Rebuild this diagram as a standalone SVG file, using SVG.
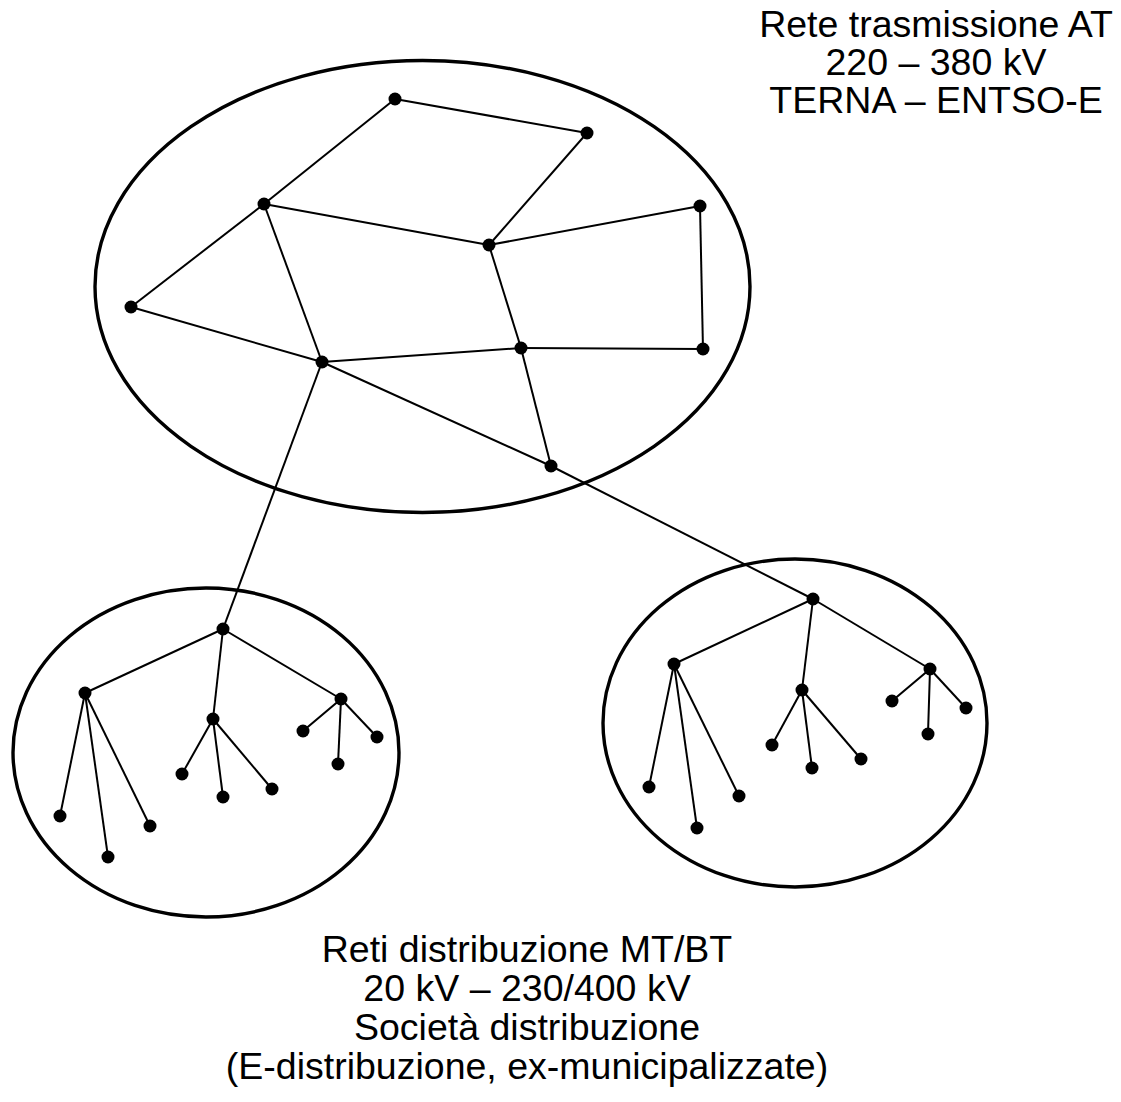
<svg xmlns="http://www.w3.org/2000/svg" width="1121" height="1102" viewBox="0 0 1121 1102">
  <style>
    .zone { fill: none; stroke: #000; stroke-width: 3.4; }
    .line { stroke: #000; stroke-width: 2; fill: none; }
    .node { fill: #000; }
    .label { font-family: "Liberation Sans", Arial, sans-serif; font-size: 37.5px; fill: #000; text-anchor: middle; }
  </style>

  <!-- network areas -->
  <g id="areas">
    <ellipse id="area-transmission" class="zone" cx="422.5" cy="286.5" rx="327.5" ry="226"/>
    <ellipse id="area-distribution-left" class="zone" cx="206" cy="752.5" rx="193" ry="164.5"/>
    <ellipse id="area-distribution-right" class="zone" cx="795" cy="723" rx="192" ry="164"/>
  </g>

  <!-- lines between stations -->
  <g id="connectors" class="line">
    <!-- transmission mesh -->
    <line x1="395" y1="99" x2="587" y2="133"/>
    <line x1="395" y1="99" x2="264" y2="204"/>
    <line x1="587" y1="133" x2="489" y2="245"/>
    <line x1="264" y1="204" x2="489" y2="245"/>
    <line x1="264" y1="204" x2="131" y2="307"/>
    <line x1="264" y1="204" x2="322" y2="362"/>
    <line x1="131" y1="307" x2="322" y2="362"/>
    <line x1="489" y1="245" x2="700" y2="206"/>
    <line x1="700" y1="206" x2="703" y2="349"/>
    <line x1="489" y1="245" x2="521" y2="348"/>
    <line x1="322" y1="362" x2="521" y2="348"/>
    <line x1="521" y1="348" x2="703" y2="349"/>
    <line x1="521" y1="348" x2="551" y2="466"/>
    <line x1="322" y1="362" x2="551" y2="466"/>
    <!-- feeders to distribution -->
    <line x1="322" y1="362" x2="223" y2="629"/>
    <line x1="551" y1="466" x2="813" y2="599"/>
    <!-- left distribution tree -->
    <line x1="223" y1="629" x2="85" y2="693"/>
    <line x1="223" y1="629" x2="213" y2="719"/>
    <line x1="223" y1="629" x2="341" y2="699"/>
    <line x1="85" y1="693" x2="60" y2="816"/>
    <line x1="85" y1="693" x2="108" y2="857"/>
    <line x1="85" y1="693" x2="150" y2="826"/>
    <line x1="213" y1="719" x2="182" y2="774"/>
    <line x1="213" y1="719" x2="223" y2="797"/>
    <line x1="213" y1="719" x2="272" y2="789"/>
    <line x1="341" y1="699" x2="303" y2="731"/>
    <line x1="341" y1="699" x2="338" y2="764"/>
    <line x1="341" y1="699" x2="377" y2="737"/>
    <!-- right distribution tree -->
    <line x1="813" y1="599" x2="674" y2="664"/>
    <line x1="813" y1="599" x2="802" y2="690"/>
    <line x1="813" y1="599" x2="930" y2="669"/>
    <line x1="674" y1="664" x2="649" y2="787"/>
    <line x1="674" y1="664" x2="697" y2="828"/>
    <line x1="674" y1="664" x2="739" y2="796"/>
    <line x1="802" y1="690" x2="772" y2="745"/>
    <line x1="802" y1="690" x2="812" y2="768"/>
    <line x1="802" y1="690" x2="861" y2="759"/>
    <line x1="930" y1="669" x2="892" y2="701"/>
    <line x1="930" y1="669" x2="928" y2="734"/>
    <line x1="930" y1="669" x2="966" y2="708"/>
  </g>

  <!-- transmission stations -->
  <g id="t1"><circle class="node" cx="395" cy="99" r="6.5"/></g>
  <g id="t2"><circle class="node" cx="587" cy="133" r="6.5"/></g>
  <g id="t3"><circle class="node" cx="264" cy="204" r="6.5"/></g>
  <g id="t4"><circle class="node" cx="489" cy="245" r="6.5"/></g>
  <g id="t5"><circle class="node" cx="700" cy="206" r="6.5"/></g>
  <g id="t6"><circle class="node" cx="131" cy="307" r="6.5"/></g>
  <g id="t7"><circle class="node" cx="322" cy="362" r="6.5"/></g>
  <g id="t8"><circle class="node" cx="521" cy="348" r="6.5"/></g>
  <g id="t9"><circle class="node" cx="703" cy="349" r="6.5"/></g>
  <g id="t10"><circle class="node" cx="551" cy="466" r="6.5"/></g>

  <!-- left distribution nodes -->
  <g id="l-root"><circle class="node" cx="223" cy="629" r="6.5"/></g>
  <g id="l-a"><circle class="node" cx="85" cy="693" r="6.5"/></g>
  <g id="l-b"><circle class="node" cx="213" cy="719" r="6.5"/></g>
  <g id="l-c"><circle class="node" cx="341" cy="699" r="6.5"/></g>
  <g id="l-a1"><circle class="node" cx="60" cy="816" r="6.5"/></g>
  <g id="l-a2"><circle class="node" cx="108" cy="857" r="6.5"/></g>
  <g id="l-a3"><circle class="node" cx="150" cy="826" r="6.5"/></g>
  <g id="l-b1"><circle class="node" cx="182" cy="774" r="6.5"/></g>
  <g id="l-b2"><circle class="node" cx="223" cy="797" r="6.5"/></g>
  <g id="l-b3"><circle class="node" cx="272" cy="789" r="6.5"/></g>
  <g id="l-c1"><circle class="node" cx="303" cy="731" r="6.5"/></g>
  <g id="l-c2"><circle class="node" cx="338" cy="764" r="6.5"/></g>
  <g id="l-c3"><circle class="node" cx="377" cy="737" r="6.5"/></g>

  <!-- right distribution nodes -->
  <g id="r-root"><circle class="node" cx="813" cy="599" r="6.5"/></g>
  <g id="r-a"><circle class="node" cx="674" cy="664" r="6.5"/></g>
  <g id="r-b"><circle class="node" cx="802" cy="690" r="6.5"/></g>
  <g id="r-c"><circle class="node" cx="930" cy="669" r="6.5"/></g>
  <g id="r-a1"><circle class="node" cx="649" cy="787" r="6.5"/></g>
  <g id="r-a2"><circle class="node" cx="697" cy="828" r="6.5"/></g>
  <g id="r-a3"><circle class="node" cx="739" cy="796" r="6.5"/></g>
  <g id="r-b1"><circle class="node" cx="772" cy="745" r="6.5"/></g>
  <g id="r-b2"><circle class="node" cx="812" cy="768" r="6.5"/></g>
  <g id="r-b3"><circle class="node" cx="861" cy="759" r="6.5"/></g>
  <g id="r-c1"><circle class="node" cx="892" cy="701" r="6.5"/></g>
  <g id="r-c2"><circle class="node" cx="928" cy="734" r="6.5"/></g>
  <g id="r-c3"><circle class="node" cx="966" cy="708" r="6.5"/></g>

  <!-- captions -->
  <g id="label-transmission" class="label">
    <text x="936" y="37">Rete trasmissione AT</text>
    <text x="936" y="75">220 – 380 kV</text>
    <text x="936" y="113">TERNA – ENTSO-E</text>
  </g>
  <g id="label-distribution" class="label">
    <text x="527" y="962">Reti distribuzione MT/BT</text>
    <text x="527" y="1001">20 kV – 230/400 kV</text>
    <text x="527" y="1040">Società distribuzione</text>
    <text x="527" y="1079">(E-distribuzione, ex-municipalizzate)</text>
  </g>
</svg>
